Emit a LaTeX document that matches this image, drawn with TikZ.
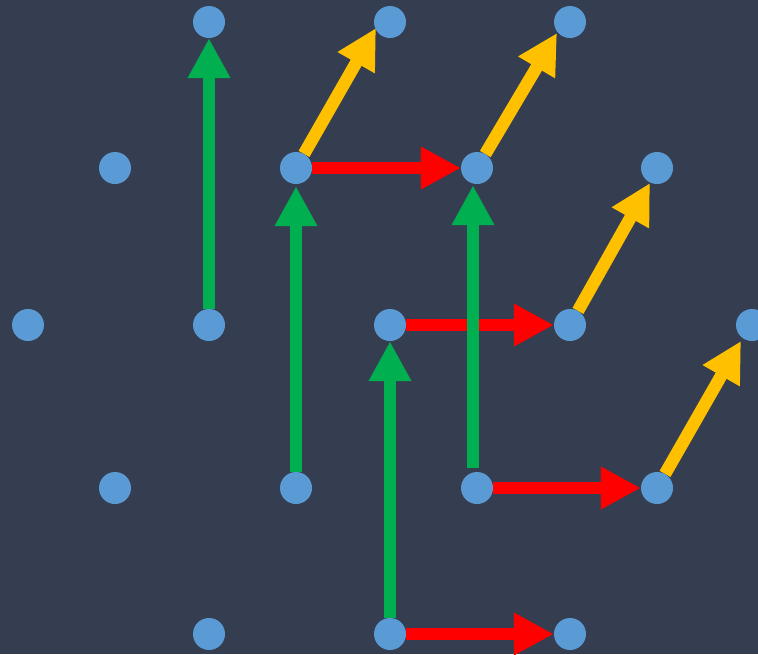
\documentclass[tikz,border=0pt]{standalone}
\usetikzlibrary{arrows.meta}
\definecolor{bg}{HTML}{343E50}
\definecolor{dotc}{HTML}{5B9BD5}
\definecolor{grn}{HTML}{00B050}
\definecolor{rd}{HTML}{FF0000}
\definecolor{yl}{HTML}{FFC000}
\tikzset{
  dotnode/.style={circle,fill=dotc,inner sep=0pt,minimum size=32pt},
  arr/.style={line width=12.5pt,-{Triangle[length=40pt,width=40pt]}},
  garr/.style={arr,draw=grn},
  rarr/.style={arr,draw=rd},
  yarr/.style={arr,draw=yl}
}
\begin{document}
\begin{tikzpicture}[x=1pt,y=-1pt]
\useasboundingbox (0,0) rectangle (758,654);
\clip (0,0) rectangle (758,654);
\fill[bg] (0,0) rectangle (758,654);
% dot positions (coordinates only; drawn last)
\path
  (209,22) coordinate (p11) (390,22) coordinate (p12) (570,22) coordinate (p13)
  (115,168) coordinate (p21) (296,168) coordinate (p22) (477,168) coordinate (p23) (657,168) coordinate (p24)
  (28,325) coordinate (p31) (209,325) coordinate (p32) (390,325) coordinate (p33) (570,325) coordinate (p34) (752,325) coordinate (p35)
  (115,488) coordinate (p41) (296,488) coordinate (p42) (477,488) coordinate (p43) (657,488) coordinate (p44)
  (209,634) coordinate (p51) (390,634) coordinate (p52) (570,634) coordinate (p53);
% invisible nodes for borders
\foreach \n in {p11,p12,p13,p21,p22,p23,p24,p31,p32,p33,p34,p35,p41,p42,p43,p44,p51,p52,p53}{
  \node[circle,inner sep=0pt,minimum size=32pt] (n\n) at (\n) {};
}
% yellow arrow tip points
\coordinate (y1) at ([shift={(80,-140)}]p22);
\coordinate (y2) at ([shift={(80,-135)}]p23);
\coordinate (y3) at ([shift={(80,-142)}]p34);
\coordinate (y4) at ([shift={(84,-147)}]p44);
% red arrows
\draw[rarr] (np22) -- (np23);
\draw[rarr] (np33) -- (np34);
\draw[rarr] (np43) -- (np44);
\draw[rarr] (np52) -- (np53);
% green arrows
\draw[garr] (np32) -- (np11);
\draw[garr] (np42) -- ([yshift=-2pt]np22.south);
\draw[garr] (np52) -- (np33);
\draw[garr] ([xshift=-4pt,yshift=4pt]np43.north) -- ([xshift=-4pt,yshift=-1pt]np23.south);
% yellow arrows
\draw[yarr] (np22) -- (y1);
\draw[yarr] (np23) -- (y2);
\draw[yarr] (np34) -- (y3);
\draw[yarr] (np44) -- (y4);
% dots on top
\foreach \n in {p11,p12,p13,p21,p22,p23,p24,p31,p32,p33,p34,p35,p41,p42,p43,p44,p51,p52,p53}{
  \fill[dotc] (\n) circle (16pt);
}
\end{tikzpicture}
\end{document}
